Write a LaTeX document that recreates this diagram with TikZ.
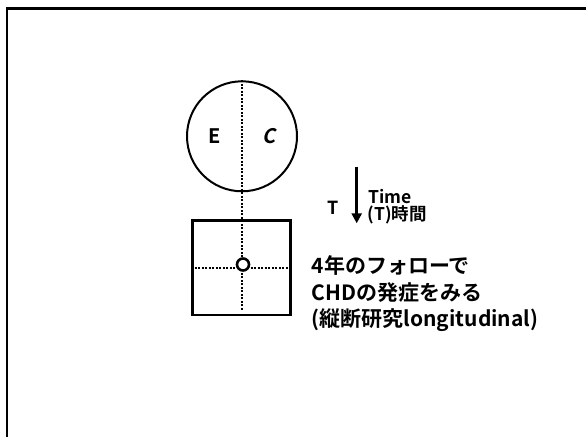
\documentclass[tikz,border=0pt]{standalone}
\usepackage{fontspec}
\setmainfont{Noto Sans CJK JP}[BoldFont={Noto Sans CJK JP Bold}]
\newfontfamily\cfont{Noto Sans CJK JP Bold}[FakeSlant=0.2]
\usetikzlibrary{shapes.geometric,arrows.meta}
\begin{document}
\begin{tikzpicture}[x=1pt,y=-1pt,
  dotline/.style={draw=black,line width=2pt,dash pattern=on 1.8pt off 1.7pt},
  lbl/.style={font=\bfseries\fontsize{20}{22}\selectfont,inner sep=0pt},
  small/.style={font=\bfseries\fontsize{17.5}{19}\selectfont,inner sep=0pt,anchor=west},
  jp/.style={font=\bfseries\fontsize{21}{26}\selectfont,inner sep=0pt,anchor=west}]
\useasboundingbox (0,0) rectangle (586,437);
\fill[white] (0,0) rectangle (586,437);
% frame
\coordinate (ftl) at (6.8,8.3);
\coordinate (ftr) at (586,8.3);
\coordinate (fbl) at (6.8,437);
\draw[line width=2.5pt] (fbl) -- (ftl) -- (ftr);
% circle group
\node[circle,draw,line width=2pt,minimum size=110,inner sep=0pt] (grp) at (242,136.3) {};
\node[lbl] (E) at (215,136.3) {E};
\node[lbl,font=\cfont\fontsize{20}{22}\selectfont] (C) at (269.5,136.3) {C};
% square
\node[rectangle,draw,line width=2.6pt,minimum width=98,minimum height=94.3,inner sep=0pt] (sq) at (241.5,267.85) {};
\coordinate (vend) at (242,310);
\draw[dotline] (grp.north) -- (vend);
\draw[dotline] (sq.west) -- (sq.east);
\node[circle,draw,line width=2.6pt,fill=white,minimum size=12,inner sep=0pt] (o) at (243,264.5) {};
% time arrow
\coordinate (a1) at (356.7,167.3);
\coordinate (a2) at (356.7,223.3);
\draw[line width=3pt,-{Triangle[length=10pt,width=10pt]}] (a1) -- (a2);
\node[lbl,font=\bfseries\fontsize{18}{20}\selectfont] (T) at (333,208) {T};
\node[small] (time) at (368.5,196.7) {Time};
\node[small] (timejp) at (367.5,214.5) {(T)時間};
% description
\node[jp] (d1) at (311.5,265.7) {4年のフォローで};
\node[jp] (d2) at (311.5,292.2) {CHDの発症をみる};
\node[jp] (d3) at (311.5,320.2) {(縦断研究longitudinal)};
\end{tikzpicture}
\end{document}
